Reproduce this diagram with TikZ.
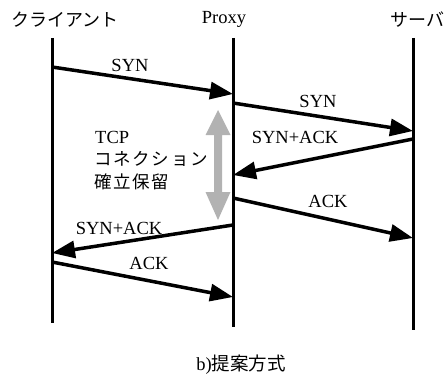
\documentclass[tikz,border=0pt]{standalone}
\usepackage{fontspec}
\setmainfont{Liberation Serif}
\newfontfamily\jafont{Noto Sans CJK JP}
\newfontfamily\jawide[LetterSpace=10]{Noto Sans CJK JP}
\usetikzlibrary{arrows.meta}

\begin{document}
\begin{tikzpicture}[x=1pt,y=-1pt,
  lifeline/.style={line width=3pt},
  msg/.style={line width=3.5pt,-{Triangle[length=23pt,width=17pt]}},
  lbl/.style={font=\fontsize{18.5}{20}\selectfont,inner sep=0pt},
  jlbl/.style={font=\jafont\fontsize{18}{20}\selectfont,inner sep=0pt},
  jwide/.style={font=\jawide\fontsize{17.5}{20}\selectfont,inner sep=0pt}]
 \useasboundingbox (0,0) rectangle (444,377);
 \coordinate (cTop) at (52,38);
 \coordinate (cBot) at (52,323);
 \coordinate (pTop) at (233,38);
 \coordinate (pBot) at (233,327);
 \coordinate (sTop) at (413,38);
 \coordinate (sBot) at (413,330);
 \draw[lifeline] (cTop)--(cBot);
 \draw[lifeline] (pTop)--(pBot);
 \draw[lifeline] (sTop)--(sBot);
 \node[jlbl] (client) at (65,20) {クライアント};
 \node[lbl] (proxy) at (224,19) {Proxy};
 \node[jlbl,anchor=west] (server) at (390,20) {サーバ};

 \coordinate (c1) at (52,67);
 \coordinate (p1) at (233,94);
 \coordinate (p2) at (233,103);
 \coordinate (s2) at (413,131);
 \coordinate (s3) at (413,139);
 \coordinate (p3) at (233,175);
 \coordinate (p4) at (233,198);
 \coordinate (s4) at (413,238);
 \coordinate (p5) at (233,225);
 \coordinate (c5) at (52,253);
 \coordinate (c6) at (52,262);
 \coordinate (p6) at (233,297);
 \draw[msg] (c1)--(p1);
 \draw[msg] (p2)--(s2);
 \draw[msg] (s3)--(p3);
 \draw[msg] (p4)--(s4);
 \draw[msg] (p5)--(c5);
 \draw[msg] (c6)--(p6);
 \node[lbl] (syn1) at (130,65) {SYN};
 \node[lbl] (syn2) at (318,101) {SYN};
 \node[lbl] (synack1) at (295,137) {SYN+ACK};
 \node[lbl] (ack1) at (328,201) {ACK};
 \node[lbl] (synack2) at (119,228) {SYN+ACK};
 \node[lbl] (ack2) at (149,263) {ACK};

 \fill[black!30] (218,110)--(230.5,135)--(222,135)--(222,192)--(230.5,192)
   --(218,220)--(205.5,192)--(214,192)--(214,135)--(205.5,135)--cycle;
 \node[lbl,anchor=west] (tcp) at (95,137) {TCP};
 \node[jwide,anchor=west] (conn) at (94,159) {コネクション};
 \node[jwide,anchor=west] (hold) at (94,182) {確立保留};

 \node[lbl] (caption) at (241,365) {b)\jafont 提案方式};
\end{tikzpicture}
\end{document}
